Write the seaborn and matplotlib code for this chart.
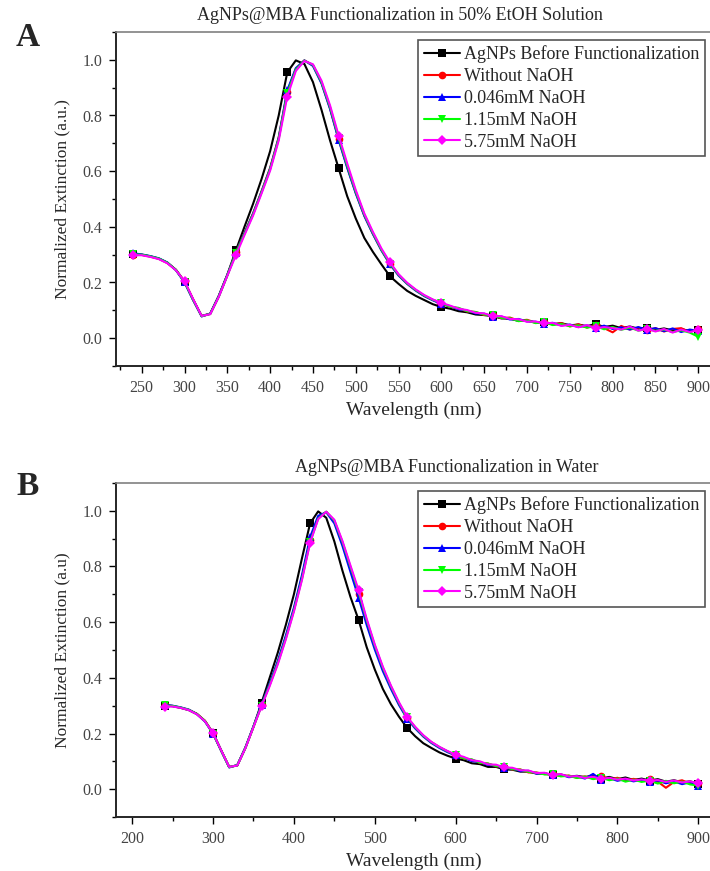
import numpy as np
import pandas as pd
import matplotlib
matplotlib.use("Agg")
import matplotlib.pyplot as plt
import seaborn as sns
from matplotlib.ticker import MultipleLocator

sns.set_style("ticks")
plt.rcParams['font.family'] = ['Liberation Serif', 'DejaVu Serif']

# ---------------- data ----------------
wavelength = list(range(240, 901, 10))

series_labels = ["AgNPs Before Functionalization", "Without NaOH", "0.046mM NaOH",
                 "1.15mM NaOH", "5.75mM NaOH"]
series_colors = ["#000000", "#ff0000", "#0000ff", "#00ff00", "#ff00ff"]
series_markers = ["s", "o", "^", "v", "D"]

A_before = [0.302,0.300,0.294,0.286,0.271,0.246,0.203,0.138,0.080,0.088,0.152,0.228,
            0.315,0.400,0.482,0.572,0.672,0.800,0.955,0.998,0.985,0.920,0.820,0.710,
            0.610,0.510,0.430,0.360,0.310,0.265,0.222,0.195,0.170,0.152,0.137,0.122,
            0.112,0.106,0.097,0.093,0.085,0.083,0.079,0.071,0.070,0.062,0.063,0.056,
            0.058,0.050,0.054,0.046,0.049,0.043,0.051,0.040,0.045,0.036,0.042,0.034,
            0.038,0.030,0.035,0.028,0.033,0.025,0.029]
A_without = [0.300,0.299,0.293,0.285,0.270,0.245,0.204,0.140,0.079,0.087,0.150,0.226,
             0.308,0.378,0.448,0.528,0.612,0.722,0.885,0.968,0.998,0.980,0.918,0.825,
             0.715,0.615,0.522,0.440,0.375,0.316,0.266,0.226,0.196,0.172,0.152,0.137,
             0.124,0.113,0.107,0.096,0.094,0.083,0.083,0.072,0.074,0.063,0.066,0.056,
             0.059,0.049,0.054,0.042,0.050,0.038,0.047,0.036,0.021,0.044,0.031,0.038,
             0.028,0.036,0.024,0.033,0.036,0.022,0.034]
A_0046 = [0.305,0.301,0.295,0.287,0.272,0.244,0.200,0.137,0.078,0.088,0.151,0.227,
          0.307,0.377,0.447,0.527,0.610,0.720,0.890,0.970,0.998,0.978,0.915,0.823,
          0.712,0.612,0.520,0.439,0.374,0.315,0.265,0.225,0.195,0.171,0.151,0.136,
          0.123,0.115,0.104,0.099,0.089,0.088,0.077,0.078,0.067,0.069,0.060,0.059,
          0.052,0.055,0.046,0.049,0.040,0.046,0.036,0.045,0.033,0.039,0.031,0.040,
          0.030,0.036,0.025,0.035,0.022,0.031,0.026]
A_115 = [0.301,0.300,0.294,0.286,0.271,0.245,0.202,0.139,0.079,0.087,0.149,0.225,
         0.305,0.374,0.444,0.524,0.607,0.716,0.880,0.965,0.997,0.982,0.920,0.830,
         0.720,0.620,0.526,0.444,0.378,0.318,0.268,0.228,0.197,0.173,0.153,0.138,
         0.126,0.113,0.109,0.097,0.094,0.085,0.082,0.073,0.072,0.061,0.064,0.054,
         0.057,0.047,0.051,0.043,0.046,0.038,0.043,0.032,0.040,0.030,0.038,0.027,
         0.033,0.026,0.031,0.022,0.028,0.020,0.005]
A_575 = [0.298,0.298,0.292,0.284,0.269,0.244,0.205,0.141,0.080,0.086,0.148,0.224,
         0.298,0.370,0.440,0.520,0.602,0.710,0.868,0.960,0.996,0.984,0.925,0.836,
         0.728,0.628,0.532,0.448,0.382,0.322,0.272,0.230,0.199,0.175,0.155,0.139,
         0.127,0.117,0.106,0.101,0.091,0.089,0.079,0.079,0.069,0.068,0.059,0.060,
         0.053,0.055,0.044,0.048,0.039,0.047,0.035,0.040,0.036,0.031,0.042,0.027,
         0.034,0.024,0.033,0.020,0.031,0.022,0.029]

B_before = [0.300,0.298,0.292,0.284,0.270,0.245,0.202,0.140,0.080,0.085,0.148,0.225,
            0.310,0.400,0.490,0.590,0.700,0.830,0.955,0.998,0.975,0.890,0.785,0.690,
            0.608,0.510,0.430,0.360,0.305,0.260,0.220,0.190,0.165,0.148,0.132,0.120,
            0.110,0.104,0.093,0.090,0.080,0.080,0.071,0.070,0.063,0.063,0.056,0.057,
            0.050,0.053,0.045,0.048,0.043,0.050,0.038,0.044,0.036,0.042,0.033,0.038,
            0.031,0.036,0.027,0.032,0.025,0.028,0.020]
B_without = [0.302,0.299,0.293,0.285,0.271,0.246,0.201,0.139,0.079,0.086,0.149,0.224,
             0.302,0.376,0.456,0.546,0.646,0.762,0.895,0.976,0.996,0.962,0.884,0.792,
             0.702,0.602,0.512,0.432,0.366,0.306,0.256,0.221,0.191,0.168,0.150,0.135,
             0.122,0.110,0.106,0.094,0.092,0.082,0.080,0.071,0.071,0.060,0.060,0.054,
             0.054,0.047,0.049,0.041,0.046,0.038,0.047,0.034,0.041,0.031,0.037,0.030,
             0.035,0.027,0.005,0.026,0.032,0.019,0.022]
B_0046 = [0.304,0.300,0.294,0.286,0.270,0.243,0.199,0.138,0.078,0.087,0.150,0.226,
          0.304,0.380,0.460,0.552,0.652,0.770,0.905,0.982,0.995,0.955,0.874,0.780,
          0.688,0.590,0.502,0.424,0.360,0.302,0.253,0.218,0.189,0.166,0.148,0.133,
          0.121,0.113,0.101,0.097,0.087,0.085,0.075,0.074,0.065,0.066,0.056,0.057,
          0.050,0.052,0.043,0.046,0.038,0.055,0.033,0.040,0.030,0.036,0.028,0.034,
          0.025,0.031,0.021,0.028,0.018,0.025,0.012]
B_115 = [0.301,0.299,0.293,0.285,0.270,0.245,0.200,0.139,0.079,0.086,0.148,0.224,
         0.300,0.374,0.452,0.542,0.642,0.756,0.888,0.972,0.997,0.965,0.888,0.798,
         0.708,0.607,0.516,0.436,0.369,0.309,0.258,0.222,0.192,0.169,0.151,0.136,
         0.123,0.111,0.107,0.095,0.092,0.083,0.081,0.072,0.070,0.062,0.059,0.053,
         0.053,0.046,0.048,0.040,0.045,0.036,0.041,0.032,0.038,0.027,0.034,0.026,
         0.031,0.020,0.030,0.021,0.027,0.017,0.013]
B_575 = [0.297,0.297,0.292,0.284,0.269,0.244,0.201,0.140,0.080,0.085,0.147,0.223,
         0.298,0.370,0.448,0.538,0.638,0.752,0.885,0.970,0.997,0.968,0.892,0.803,
         0.715,0.612,0.520,0.440,0.372,0.312,0.260,0.224,0.194,0.170,0.152,0.137,
         0.124,0.116,0.104,0.100,0.089,0.088,0.078,0.077,0.068,0.067,0.058,0.059,
         0.051,0.054,0.045,0.047,0.040,0.045,0.036,0.041,0.034,0.038,0.031,0.035,
         0.030,0.033,0.026,0.031,0.024,0.028,0.021]

panel_A = [A_before, A_without, A_0046, A_115, A_575]
panel_B = [B_before, B_without, B_0046, B_115, B_575]

title_A = "AgNPs@MBA Functionalization in 50% EtOH Solution"
title_B = "AgNPs@MBA Functionalization in Water"
ylabel_A = "Normalized Extinction (a.u.)"
ylabel_B = "Normalized Extinction (a.u)"
xlabel = "Wavelength (nm)"

# ---------------- figure ----------------
W, H = 710, 871
fig = plt.figure(figsize=(W / 100, H / 100), dpi=100)

def px_axes(left, top, right, bottom):
    return fig.add_axes([left / W, 1 - bottom / H, (right - left) / W, (bottom - top) / H])

axA = px_axes(116, 32, 712, 366)
axB = px_axes(116, 483, 712, 817)

def draw_panel(ax, data, xlim, xmajor, xminor, title, ylabel, title_x, title_y, letter, letter_y, ylab_x):
    for vals, lab, col, mk in zip(data, series_labels, series_colors, series_markers):
        df = pd.DataFrame({"wl": wavelength, "ext": vals})
        sns.lineplot(data=df, x="wl", y="ext", ax=ax, color=col, marker=mk,
                     markevery=6, markersize=5.5, markeredgewidth=0,
                     linewidth=1.5, label=lab, sort=False)
    ax.set_xlim(*xlim)
    ax.set_ylim(-0.1, 1.1)
    ax.xaxis.set_major_locator(MultipleLocator(xmajor))
    ax.xaxis.set_minor_locator(MultipleLocator(xminor))
    ax.yaxis.set_minor_locator(MultipleLocator(0.1))
    ax.set_yticks([0.0, 0.2, 0.4, 0.6, 0.8, 1.0])
    ax.set_yticklabels(["0.0", "0.2", "0.4", "0.6", "0.8", "1.0"])
    ax.tick_params(which="major", direction="out", length=5, width=1, color="black",
                   labelsize=11.5, labelcolor="#444444", pad=5)
    ax.tick_params(which="minor", direction="out", length=3, width=1, color="black")
    ax.spines["right"].set_visible(False)
    ax.spines["top"].set_color("#808080")
    ax.spines["top"].set_linewidth(1.2)
    ax.spines["left"].set_linewidth(1.4)
    ax.spines["bottom"].set_linewidth(1.4)
    ax.set_xlabel(xlabel, fontsize=14, labelpad=4)
    ax.set_ylabel(ylabel, fontsize=12.5)
    ax.yaxis.set_label_coords((ylab_x - 116) / 596, 0.5)
    leg = ax.legend(loc="upper right", bbox_to_anchor=(1 - 7 / 596, 1 - 8 / 334),
                    borderaxespad=0, fontsize=13, frameon=True, fancybox=False,
                    edgecolor="#555555", framealpha=1, handlelength=2.0,
                    handletextpad=0.25, labelspacing=0.27, borderpad=0.3)
    leg.get_frame().set_linewidth(1.2)
    fig.text(title_x / W, 1 - title_y / H, title, fontsize=13, ha="center", va="center")
    fig.text(28 / W, 1 - letter_y / H, letter, fontsize=24, fontweight="bold",
             ha="center", va="center")

draw_panel(axA, panel_A, (220, 916), 50, 25, title_A, ylabel_A, 400, 16, "A", 38, 70)
draw_panel(axB, panel_B, (180, 917), 100, 50, title_B, ylabel_B, 447, 467, "B", 486, 70)

fig.savefig("out.png", dpi=100)
